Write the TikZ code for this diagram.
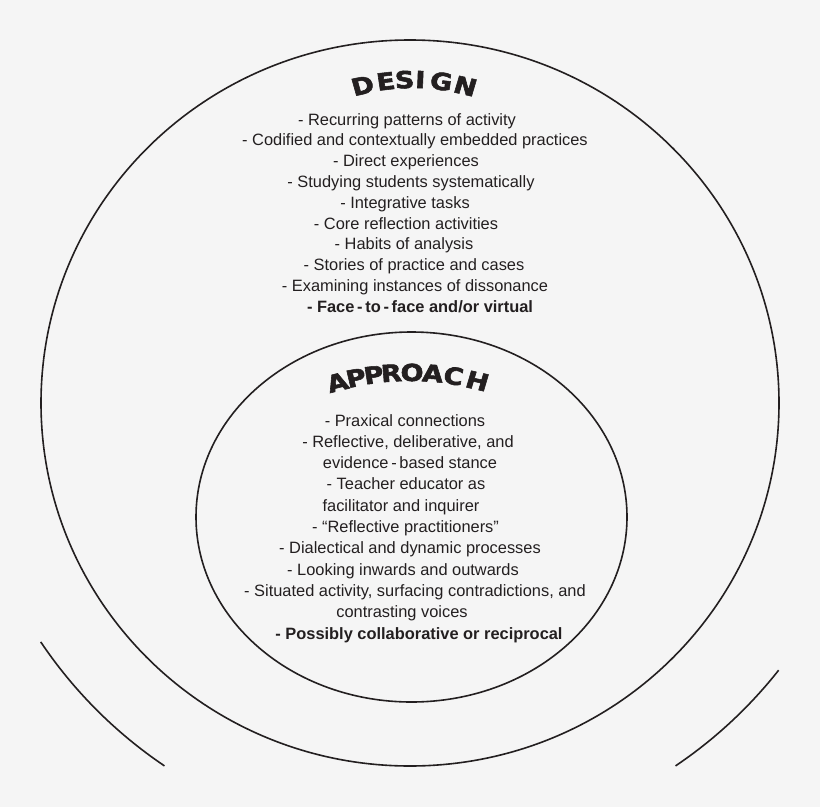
\documentclass[tikz,border=0pt]{standalone}
\usepackage{fontspec}
\setmainfont{Liberation Sans}
\newfontfamily\titlefont{DejaVu Sans}[BoldFeatures={FakeBold=2.2}]
\definecolor{bgc}{RGB}{245,245,245}
\definecolor{ink}{RGB}{35,31,32}
\begin{document}
\begin{tikzpicture}[x=1bp,y=-1bp,
  ring/.style={draw=ink,line width=1.6bp},
  item/.style={anchor=base,inner sep=0pt,text=ink,font=\fontsize{16.4bp}{20bp}\selectfont},
  boldit/.style={item,font=\fontsize{16.4bp}{20bp}\selectfont\bfseries},
  ttl/.style={anchor=base,inner sep=0pt,text=ink,font=\fontsize{23.5bp}{26bp}\selectfont\titlefont\bfseries,xscale=1.15}]
\fill[bgc] (0,0) rectangle (820,807);
\useasboundingbox (0,0) rectangle (820,807);
% outer partial ring (two lower arcs)
\coordinate (oc) at (420,387);
\draw[ring] (oc) ++(146.1:457) arc[start angle=146.1, end angle=124, radius=457];
\draw[ring] (oc) ++(38.3:457) arc[start angle=38.3, end angle=56, radius=457];
% middle ring
\draw[ring] (410,403) ellipse [x radius=369, y radius=363];
% inner ring
\draw[ring] (411.5,517) ellipse [x radius=215.5, y radius=185];
% DESIGN title
\foreach \l/\dx [count=\i] in {D/-48,E/-26,S/-8,I/7,G/27,N/50}{
  \pgfmathsetmacro\ang{asin(\dx/200)}
  \pgfmathsetmacro\yy{288-200*cos(\ang)}
  \node[ttl,rotate=-\ang] (des\i) at ({413+\dx},\yy) {\l};
}
% APPROACH title
\foreach \l/\dx [count=\i] in {A/-70,P/-52,P/-35,R/-18,O/2,A/22,C/42,H/65}{
  \pgfmathsetmacro\ang{asin(\dx/260)}
  \pgfmathsetmacro\yy{641-260*cos(\ang)}
  \node[ttl,rotate=-\ang] (app\i) at ({410+\dx},\yy) {\l};
}
% DESIGN list
\node[item] (d1) at (407,125) {- Recurring patterns of activity};
\node[item] (d2) at (415,145.8) {- Codified and contextually embedded practices};
\node[item] (d3) at (406,166.6) {- Direct experiences};
\node[item] (d4) at (411,187.4) {- Studying students systematically};
\node[item] (d5) at (405,208.2) {- Integrative tasks};
\node[item] (d6) at (406,229) {- Core reflection activities};
\node[item] (d7) at (404,249.8) {- Habits of analysis};
\node[item] (d8) at (414,270.6) {- Stories of practice and cases};
\node[item] (d9) at (415,291.4) {- Examining instances of dissonance};
\node[boldit] (d10) at (420,312.2) {- Face\,-\,to\,-\,face and/or virtual};
% APPROACH list
\node[item] (a1) at (405,426) {- Praxical connections};
\node[item] (a2) at (408,447.3) {- Reflective, deliberative, and};
\node[item] (a3) at (410,468.6) {evidence\,-\,based stance};
\node[item] (a4) at (406,489.9) {- Teacher educator as};
\node[item] (a5) at (401,511.2) {facilitator and inquirer};
\node[item] (a6) at (405.5,532.5) {- “Reflective practitioners”};
\node[item] (a7) at (410,553.8) {- Dialectical and dynamic processes};
\node[item] (a8) at (403,575.1) {- Looking inwards and outwards};
\node[item] (a9) at (415,596.4) {- Situated activity, surfacing contradictions, and};
\node[item] (a10) at (402,617.7) {contrasting voices};
\node[boldit] (a11) at (419,639) {- Possibly collaborative or reciprocal};
\end{tikzpicture}
\end{document}
